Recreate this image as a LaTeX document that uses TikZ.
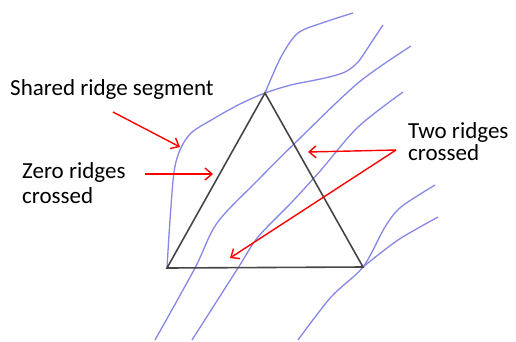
\documentclass[tikz,border=0pt]{standalone}
\usepackage{fontspec}
\setmainfont{Carlito}
\usetikzlibrary{arrows.meta}
\definecolor{ridgeblue}{RGB}{135,135,230}
\definecolor{edgegray}{RGB}{70,70,70}

\begin{document}
\begin{tikzpicture}[x=1pt,y=-1pt,
  ridge/.style={ridgeblue, line width=1.3pt},
  edge/.style={edgegray, line width=1.6pt},
  pointer/.style={red, line width=1.4pt, -{Straight Barb[length=7pt,width=12pt]}},
  tag/.style={font=\fontsize{23}{24.5}\selectfont, align=left, inner sep=0pt, anchor=base west}]
  \useasboundingbox (0,0) rectangle (516,341);

  % Triangle vertices (manual placement)
  \coordinate (t) at (265,93);
  \coordinate (l) at (167,268);
  \coordinate (r) at (363,267);

  % Ridges
  \draw[ridge] plot[smooth] coordinates {(l) (170,220) (174,172) (180,150) (191,133) (213,119) (240,104) (t)
    (291,85) (325,78) (345,72) (358,62) (371,43) (383,25)};
  \draw[ridge] plot[smooth] coordinates {(t) (281,57) (298,33) (325,22) (353,13)};
  \draw[ridge] plot[smooth] coordinates {(411,46) (358,83) (295,143) (258,180) (217,223) (195,268) (155,340)};
  \draw[ridge] plot[smooth] coordinates {(403,92) (358,127) (321,170) (291,203) (258,237) (238,268) (192,340)};
  \draw[ridge] plot[smooth] coordinates {(298,340) (331,297) (r) (385,227) (401,207) (435,185)};
  \draw[ridge] plot[smooth] coordinates {(r) (398,240) (438,217)};

  \draw[edge] (t) -- (r) -- (l) -- cycle;

  % Labels (base = last line)
  \node[tag] (shared) at (10,95) {Shared ridge segment};
  \node[tag] (zero) at (22,203) {Zero ridges\\crossed};
  \node[tag, font=\fontsize{23}{22}\selectfont] (two) at (408,160) {Two ridges\\crossed};

  % Pointer ends
  \coordinate (s0) at (113,112);
  \coordinate (s1) at (180,147);
  \coordinate (z0) at (145,174);
  \coordinate (z1) at (213,174);
  \coordinate (w0) at (396,150);
  \coordinate (w1) at (308,152);
  \coordinate (w2) at (230,258);

  \draw[pointer] (s0) -- (s1);
  \draw[pointer] (z0) -- (z1);
  \draw[pointer] (w0) -- (w1);
  \draw[pointer] (w0) -- (w2);
\end{tikzpicture}
\end{document}
